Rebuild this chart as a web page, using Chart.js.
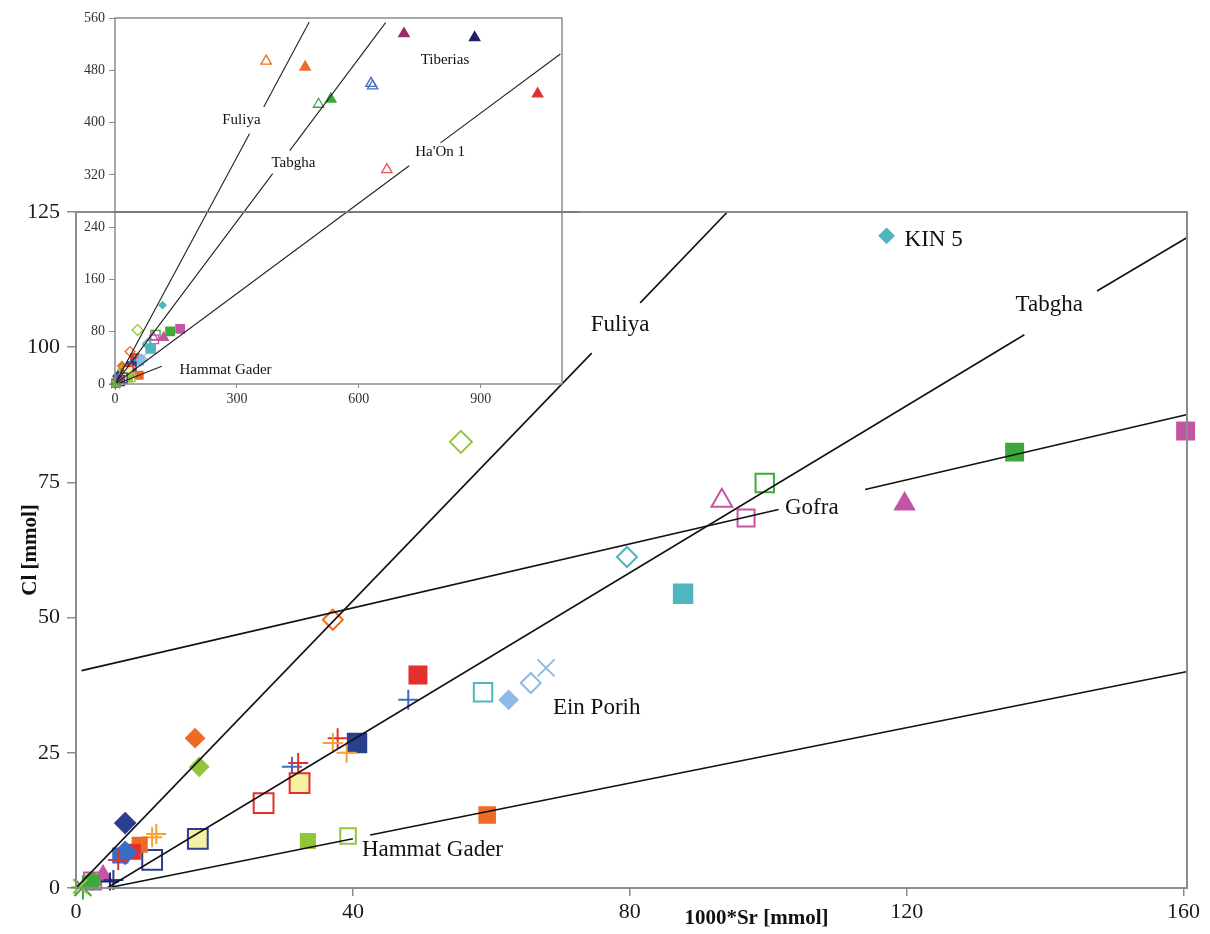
<!DOCTYPE html>
<html>
<head>
<meta charset="utf-8">
<script src="https://cdn.jsdelivr.net/npm/chart.js@4.4.1/dist/chart.umd.min.js"></script>
<style>
  html, body { margin: 0; padding: 0; background: #fff; }
  #wrap { position: relative; width: 1210px; height: 934px; }
  #mainChart { position: absolute; left: 0; top: 0; }
  #insetChart { position: absolute; left: 60px; top: 0; }
</style>
</head>
<body>
<div id="wrap">
  <canvas id="mainChart" width="1210" height="934"></canvas>
  <canvas id="insetChart" width="520" height="415"></canvas>
</div>
<script>
// samples, 1000*Sr vs Cl (mmol)
const sr = [117.1, 55.6, 160.3, 135.6, 99.5, 93.3, 96.8, 119.7, 79.6, 87.7,
            37.1, 49.4, 48.0, 58.8, 62.5, 65.7, 67.9, 17.2, 17.8, 40.6,
            37.8, 37.1, 39.1, 31.2, 32.1, 27.1, 32.3, 59.4, 33.5, 39.3,
            17.6, 11.0, 7.1, 11.0, 11.6, 9.2, 8.2, 7.1, 6.4, 6.1,
            2.4, 3.9, 5.4, 4.9, 2.3, 1.0, 0.6];
const cl = [120.6, 82.5, 84.5, 80.6, 74.9, 71.6, 68.4, 71.0, 61.2, 54.4,
            49.6, 39.4, 34.8, 36.2, 34.8, 37.9, 40.7, 27.7, 22.4, 26.8,
            27.7, 26.8, 25.0, 22.4, 23.1, 15.7, 19.4, 13.5, 8.7, 9.6,
            9.1, 5.2, 12.0, 9.4, 10.0, 8.0, 6.7, 6.5, 6.0, 5.2,
            1.3, 2.4, 1.5, 1.2, 1.2, 0.1, 0.3];

// saline samples that only show up in the inset
const deepSr = [372, 468, 711, 885, 630, 634, 501, 531, 1040, 669];
const deepCl = [494, 485, 536, 530, 460, 456, 428, 436, 444, 328];

// mixing lines, null = gap left for the label
const fuliyaSr = [0, 74.5, null, 81.5, 94.1];
const fuliyaCl = [0, 98.9, null, 108.2, 125];
const tabghaSr = [4.5, 137, null, 147.5, 160.4];
const tabghaCl = [0, 102.3, null, 110.4, 120.2];
const gofraSr = [0.8, 101.5, null, 114, 160.4];
const gofraCl = [40.2, 70.0, null, 73.7, 87.5];
const hammatSr = [4.5, 40, null, 42.5, 160.4];
const hammatCl = [0, 9.1, null, 9.8, 40];

const inFuliyaSr = [0, 331, null, 366, 478];
const inFuliyaCl = [0, 383, null, 424, 554];
const inTabghaSr = [0, 388, null, 430, 666];
const inTabghaCl = [0, 322, null, 357, 553];
const inHaonSr = [0, 724, null, 801, 1096];
const inHaonCl = [0, 334, null, 369, 505];
const inHammatSr = [4.5, 115];
const inHammatCl = [0, 27];

// ticks
const srTicks = [0, 40, 80, 120, 160];
const clTicks = [0, 25, 50, 75, 100, 125];
const inSrTicks = [0, 300, 600, 900];
const inClTicks = [0, 80, 160, 240, 320, 400, 480, 560];

// labels on the plot
const noteText = ['KIN 5', 'Fuliya', 'Tabgha', 'Gofra', 'Ein Porih', 'Hammat Gader'];
const noteSr = [119.7, 78.6, 140.6, 106.3, 68.9, 41.3];
const noteCl = [119.8, 104.1, 107.8, 70.3, 33.3, 7.0];
const noteAlign = ['left', 'center', 'center', 'center', 'left', 'left'];

const inNoteText = ['Fuliya', 'Tabgha', "Ha'On 1", 'Tiberias', 'Hammat Gader'];
const inNoteSr = [311, 439, 800, 812, 272];
const inNoteCl = [404, 338, 355, 495, 21];

// marker styles
const teal = '#4fb6bf', lgreen = '#93c53c', magenta = '#c455a5', green = '#3da93a',
      red = '#e2302c', orange = '#ee6b25', blue = '#3b6dc3', lblue = '#8dbbe6',
      dblue = '#2a3f8f', yellow = '#f7f0a2', oplus = '#f5a136', navy = '#1f1f6e',
      none = 'rgba(0,0,0,0)';

const shape = ['rectRot', 'rectRot', 'rect', 'rect', 'rect', 'triangle', 'rect', 'triangle', 'rectRot', 'rect',
               'rectRot', 'rect', 'cross', 'rect', 'rectRot', 'rectRot', 'crossRot', 'rectRot', 'rectRot', 'rect',
               'cross', 'cross', 'cross', 'cross', 'cross', 'rect', 'rect', 'rect', 'rect', 'rect',
               'rect', 'rect', 'rectRot', 'cross', 'cross', 'rect', 'rect', 'rectRot', 'rect', 'cross',
               'rect', 'triangle', 'cross', 'cross', 'circle', 'star', 'crossRot'];
const edge = [teal, lgreen, magenta, green, green, magenta, magenta, magenta, teal, teal,
              orange, red, blue, teal, lblue, lblue, lblue, orange, lgreen, dblue,
              red, oplus, oplus, blue, red, red, red, orange, lgreen, lgreen,
              dblue, dblue, dblue, oplus, oplus, orange, red, blue, blue, red,
              magenta, magenta, dblue, navy, green, green, lgreen];
const fill = [teal, none, magenta, green, none, none, none, magenta, none, teal,
              none, red, none, none, lblue, none, none, orange, lgreen, dblue,
              none, none, none, none, none, none, yellow, orange, lgreen, none,
              yellow, none, dblue, none, none, orange, red, blue, blue, none,
              none, magenta, none, none, green, none, none];
const size = [7, 11, 12, 12, 13, 12, 12, 11, 10, 13,
              10, 12, 10, 13, 9, 10, 12, 9, 9, 13,
              10, 10, 10, 10, 10, 14, 14, 11, 10, 11,
              14, 14, 10, 10, 10, 10, 10, 11, 10, 10,
              12, 9, 10, 9, 8, 12, 10];

const deepShape = ['triangle', 'triangle', 'triangle', 'triangle', 'triangle', 'triangle', 'triangle', 'triangle', 'triangle', 'triangle'];
const deepEdge = [orange, orange, '#9c2a6e', navy, blue, blue, green, green, red, '#e8554f'];
const deepFill = [none, orange, '#9c2a6e', navy, none, none, none, green, red, none];

const serif = "'Liberation Serif', 'Times New Roman', serif";

function segments(xs, ys) {
  const out = [];
  let cur = [];
  xs.forEach((x, i) => {
    if (x === null) { if (cur.length) out.push(cur); cur = []; }
    else cur.push({ x: x, y: ys[i] });
  });
  if (cur.length) out.push(cur);
  return out;
}

function lineSets(list, width, color) {
  return list.flatMap(([xs, ys]) => segments(xs, ys).map(pts => ({
    data: pts, showLine: true, pointRadius: 0, pointHoverRadius: 0,
    borderColor: color, borderWidth: width, fill: false
  })));
}

function fixedTicks(list) {
  return scale => { scale.ticks = list.map(v => ({ value: v })); };
}

const notes = {
  id: 'notes',
  afterDraw(chart, args, opts) {
    const { ctx, scales: { x, y } } = chart;
    ctx.save();
    ctx.fillStyle = '#111';
    ctx.font = opts.font;
    ctx.textBaseline = 'middle';
    opts.text.forEach((t, i) => {
      ctx.textAlign = opts.align ? opts.align[i] : 'center';
      ctx.fillText(t, x.getPixelForValue(opts.sr[i]), y.getPixelForValue(opts.cl[i]));
    });
    if (opts.xTitle) {
      ctx.font = 'bold 21px ' + serif;
      ctx.textAlign = 'center';
      ctx.fillText(opts.xTitle, x.getPixelForValue(opts.xTitleAt), chart.chartArea.bottom + 31);
    }
    ctx.restore();
  }
};

const frame = {
  id: 'frame',
  beforeDraw(chart, args, opts) {
    if (!opts.white) return;
    const a = chart.chartArea;
    chart.ctx.save();
    chart.ctx.fillStyle = '#fff';
    chart.ctx.fillRect(a.left, a.top, a.right - a.left, a.bottom - a.top);
    chart.ctx.restore();
  },
  afterDatasetsDraw(chart, args, opts) {
    const a = chart.chartArea;
    const ctx = chart.ctx;
    ctx.save();
    ctx.strokeStyle = opts.color;
    ctx.lineWidth = opts.width;
    ctx.strokeRect(a.left, a.top, a.right - a.left, a.bottom - a.top);
    ctx.restore();
  }
};

const mainChart = new Chart(document.getElementById('mainChart'), {
  type: 'scatter',
  data: {
    datasets: [
      ...lineSets([[fuliyaSr, fuliyaCl], [tabghaSr, tabghaCl], [gofraSr, gofraCl], [hammatSr, hammatCl]], 1.6, '#111'),
      {
        data: sr.map((v, i) => ({ x: v, y: cl[i] })),
        pointStyle: shape,
        pointRadius: size,
        pointBorderColor: edge,
        pointBackgroundColor: fill,
        pointBorderWidth: 2,
        clip: false
      }
    ]
  },
  options: {
    responsive: false,
    animation: false,
    devicePixelRatio: 1,
    layout: { padding: { left: 0, top: 212, right: 23, bottom: 0 } },
    plugins: {
      legend: { display: false },
      tooltip: { enabled: false },
      notes: { text: noteText, sr: noteSr, cl: noteCl, align: noteAlign, font: '23px ' + serif,
               xTitle: '1000*Sr [mmol]', xTitleAt: 98.3 },
      frame: { color: '#8c8c8c', width: 2 }
    },
    scales: {
      x: {
        type: 'linear', min: 0, max: 160.5,
        afterBuildTicks: fixedTicks(srTicks),
        afterFit: s => { s.height = 46; },
        grid: { drawOnChartArea: false, tickLength: 8, color: '#8c8c8c', lineWidth: 1.5 },
        border: { display: false },
        ticks: { font: { family: serif, size: 22 }, color: '#1a1a1a', padding: 3, maxRotation: 0 }
      },
      y: {
        type: 'linear', min: 0, max: 125,
        afterBuildTicks: fixedTicks(clTicks),
        afterFit: s => { s.width = 76; },
        grid: { drawOnChartArea: false, tickLength: 9, color: '#8c8c8c', lineWidth: 1.5 },
        border: { display: false },
        ticks: { font: { family: serif, size: 22 }, color: '#1a1a1a', padding: 7 },
        title: { display: true, text: 'Cl [mmol]', font: { family: serif, size: 21, weight: 'bold' },
                 color: '#111', padding: { top: 18, bottom: 0 } }
      }
    }
  },
  plugins: [notes, frame]
});

// the main frame's top edge runs across the inset
const mainEdge = {
  id: 'mainEdge',
  afterDraw(chart) {
    const mainCanvas = mainChart.canvas;
    const y = mainChart.scales.y.getPixelForValue(clTicks[clTicks.length - 1]) + mainCanvas.offsetTop - chart.canvas.offsetTop;
    const a = chart.chartArea;
    const ctx = chart.ctx;
    ctx.save();
    ctx.strokeStyle = '#7a7a7a';
    ctx.lineWidth = 2;
    ctx.beginPath();
    ctx.moveTo(a.left - 2, y);
    ctx.lineTo(chart.width, y);
    ctx.stroke();
    ctx.restore();
  }
};

new Chart(document.getElementById('insetChart'), {
  type: 'scatter',
  data: {
    datasets: [
      ...lineSets([[inFuliyaSr, inFuliyaCl], [inTabghaSr, inTabghaCl], [inHaonSr, inHaonCl], [inHammatSr, inHammatCl]], 1.1, '#222'),
      {
        data: sr.map((v, i) => ({ x: v, y: cl[i] })),
        pointStyle: shape,
        pointRadius: size.map(r => r * 0.5),
        pointBorderColor: edge,
        pointBackgroundColor: fill,
        pointBorderWidth: 1.3,
        clip: false
      },
      {
        data: deepSr.map((v, i) => ({ x: v, y: deepCl[i] })),
        pointStyle: deepShape,
        pointRadius: 6,
        pointBorderColor: deepEdge,
        pointBackgroundColor: deepFill,
        pointBorderWidth: 1.3,
        clip: false
      }
    ]
  },
  options: {
    responsive: false,
    animation: false,
    devicePixelRatio: 1,
    layout: { padding: { left: 0, top: 18, right: 18, bottom: 0 } },
    plugins: {
      legend: { display: false },
      tooltip: { enabled: false },
      notes: { text: inNoteText, sr: inNoteSr, cl: inNoteCl, font: '15px ' + serif },
      frame: { color: '#8c8c8c', width: 1.5, white: true }
    },
    scales: {
      x: {
        type: 'linear', min: 0, max: 1100,
        afterBuildTicks: fixedTicks(inSrTicks),
        afterFit: s => { s.height = 31; },
        grid: { drawOnChartArea: false, tickLength: 4, color: '#8c8c8c' },
        border: { display: false },
        ticks: { font: { family: serif, size: 14 }, color: '#333', padding: 3, maxRotation: 0 }
      },
      y: {
        type: 'linear', min: 0, max: 560,
        afterBuildTicks: fixedTicks(inClTicks),
        afterFit: s => { s.width = 55; },
        grid: { drawOnChartArea: false, tickLength: 6, color: '#8c8c8c' },
        border: { display: false },
        ticks: { font: { family: serif, size: 14 }, color: '#333', padding: 4 }
      }
    }
  },
  plugins: [notes, frame, mainEdge]
});
</script>
</body>
</html>
